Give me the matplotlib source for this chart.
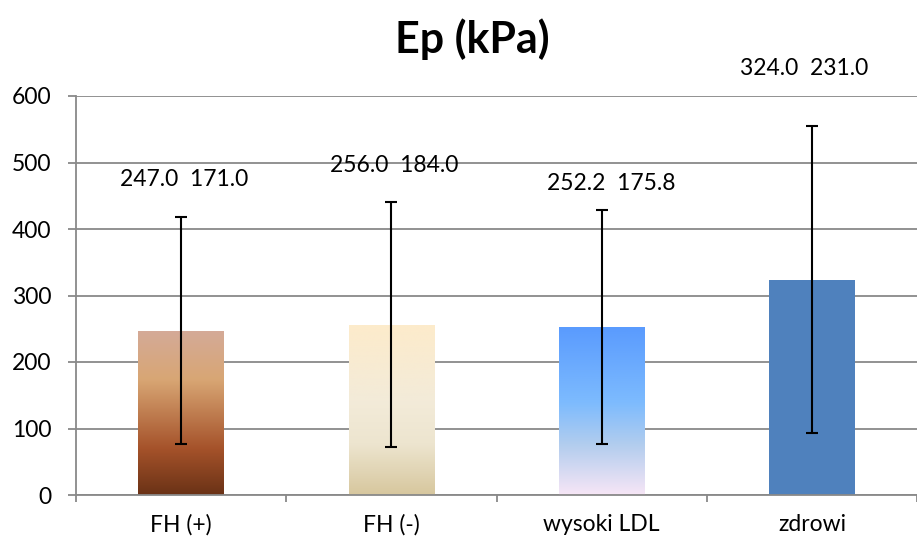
import numpy as np
import matplotlib.pyplot as plt
from matplotlib.colors import LinearSegmentedColormap

# Data
categories = ["FH (+)", "FH (-)", "wysoki LDL", "zdrowi"]
means = [247.0, 256.0, 252.2, 324.0]
sds = [171.0, 184.0, 175.8, 231.0]
yticks = [0, 100, 200, 300, 400, 500, 600]

# label placement (data units) as moved by hand in the original chart
label_dx = [0.012, 0.014, 0.047, -0.038]
label_y = [474, 495, 469, 642]

# gradient fills (top -> bottom), None = solid
fills = [
    [(0.0, "#d4aa98"), (0.3, "#d8a674"), (0.72, "#a5522a"), (1.0, "#6a3216")],
    [(0.0, "#fdebcb"), (0.45, "#f3ebd9"), (0.7, "#ede5cf"), (1.0, "#d7c79e")],
    [(0.0, "#5a9bfe"), (0.45, "#7dbbfe"), (0.7, "#b2cdee"), (1.0, "#f7e6f6")],
    None,
]
solid = "#4f81bd"

plt.rcParams["font.family"] = ["Lato", "DejaVu Sans"]

W, H = 917, 545
fig = plt.figure(figsize=(W / 100, H / 100), dpi=100)
ax = fig.add_axes([76 / W, 1 - 495 / H, (W - 76) / W, (495 - 96) / H])

x = np.arange(len(categories))
bars = ax.bar(x, means, width=0.406, color=solid, zorder=2)

for bar, stops in zip(bars, fills):
    if stops is None:
        continue
    cmap = LinearSegmentedColormap.from_list("g", stops)
    bar.set_facecolor("none")
    x0, y0 = bar.get_x(), bar.get_y()
    grad = np.linspace(0, 1, 256).reshape(-1, 1)
    im = ax.imshow(grad, cmap=cmap, aspect="auto", origin="upper",
                   extent=[x0, x0 + bar.get_width(), y0, y0 + bar.get_height()],
                   zorder=2)
    im.set_clip_path(bar)

ax.errorbar(x, means, yerr=sds, fmt="none", ecolor="black",
            elinewidth=1.5, capsize=4.3, capthick=1.5, zorder=3)

for xi, m, s, dx, ly in zip(x, means, sds, label_dx, label_y):
    ax.text(xi + dx, ly, f"{m:.1f}  {s:.1f}", ha="center", va="center",
            fontsize=16.5, color="black", zorder=4)

ax.set_xlim(-0.5, -0.5 + (W - 76) / 212)
ax.set_ylim(0, 600)
ax.set_yticks(yticks)
ax.set_xticks(x)
ax.set_xticklabels(categories)
ax.set_xticks(np.arange(len(categories) + 1) - 0.5, minor=True)

ax.grid(axis="y", color="#898989", linewidth=1.3, zorder=0)
ax.set_axisbelow(True)
for side in ["top", "right"]:
    ax.spines[side].set_visible(False)
for side in ["left", "bottom"]:
    ax.spines[side].set_color("#898989")
    ax.spines[side].set_linewidth(1.3)

ax.tick_params(axis="y", length=6, width=1.3, color="#898989", pad=11.5,
               labelsize=16.5)
ax.tick_params(axis="x", which="major", length=0, pad=14, labelsize=16.5)
ax.tick_params(axis="x", which="minor", length=5, width=1.3, color="#898989")

fig.text(472 / W, 1 - 39 / H, "Ep (kPa)", ha="center", va="center",
         fontsize=31, fontweight="bold")

fig.savefig("out.png", dpi=100)
